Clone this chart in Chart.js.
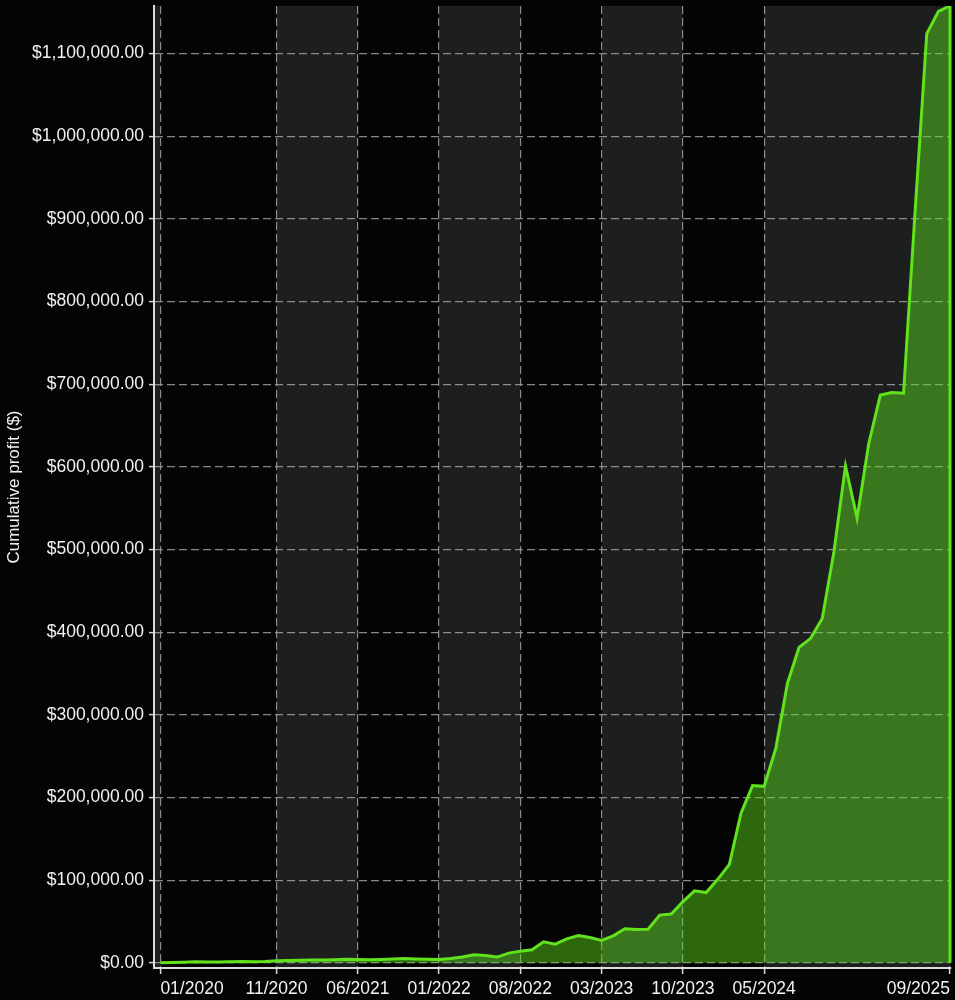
<!DOCTYPE html>
<html>
<head>
<meta charset="utf-8">
<script src="https://cdn.jsdelivr.net/npm/chart.js@4.4.1/dist/chart.umd.min.js"></script>
<style>
  html, body { margin: 0; padding: 0; background: #040404; }
  #wrap { width: 955px; height: 1000px; }
</style>
</head>
<body>
<div id="wrap"><canvas id="myChart"></canvas></div>
<script>
// monthly points, 01/2020 .. 09/2025
const months = [
  '01/2020', '02/2020', '03/2020', '04/2020', '05/2020', '06/2020', '07/2020', '08/2020', '09/2020', '10/2020', '11/2020', '12/2020',
  '01/2021', '02/2021', '03/2021', '04/2021', '05/2021', '06/2021', '07/2021', '08/2021', '09/2021', '10/2021', '11/2021', '12/2021',
  '01/2022', '02/2022', '03/2022', '04/2022', '05/2022', '06/2022', '07/2022', '08/2022', '09/2022', '10/2022', '11/2022', '12/2022',
  '01/2023', '02/2023', '03/2023', '04/2023', '05/2023', '06/2023', '07/2023', '08/2023', '09/2023', '10/2023', '11/2023', '12/2023',
  '01/2024', '02/2024', '03/2024', '04/2024', '05/2024', '06/2024', '07/2024', '08/2024', '09/2024', '10/2024', '11/2024', '12/2024',
  '01/2025', '02/2025', '03/2025', '04/2025', '05/2025', '06/2025', '07/2025', '08/2025', '09/2025',
];

const profit = [
  0, 300, 600, 1200, 1000, 900, 1200, 1500, 1400, 1700, 2500, 2800,
  3000, 3300, 3500, 3800, 4200, 4000, 3800, 4000, 4500, 5200, 4600, 4300,
  4000, 5200, 6900, 9700, 8900, 6900, 11700, 14100, 15700, 25400, 22600, 29000,
  33000, 30600, 27000, 32600, 41100, 40300, 40700, 57700, 58900, 74000, 87000, 85000,
  101000, 119000, 181000, 214500, 213500, 259500, 338000, 381500, 392500, 416500, 497000, 601000,
  538000, 628000, 687000, 690000, 689000, 910000, 1124000, 1151000, 1157500,
];

const xTickLabels = ['01/2020', '11/2020', '06/2021', '01/2022', '08/2022', '03/2023', '10/2023', '05/2024', '09/2025'];
const yTicks = [0, 100000, 200000, 300000, 400000, 500000, 600000, 700000, 800000, 900000, 1000000, 1100000];

const lineColor = 'rgb(96, 226, 28)';
const fillColor = 'rgba(96, 226, 28, 0.45)';
const textColor = '#f2f2f2';
const gridColor = 'rgba(160, 160, 160, 0.85)';
const font = { family: "'Liberation Sans', Arial, sans-serif", size: 17.5 };

const xTickPos = xTickLabels.map((l) => months.indexOf(l));

// alternating grey bands between the x ticks
const bands = {
  id: 'bands',
  beforeDraw(chart) {
    const { ctx, chartArea, scales } = chart;
    ctx.save();
    ctx.fillStyle = '#040404';
    ctx.fillRect(0, 0, chart.width, chart.height);
    const edges = [chartArea.left, ...xTickPos.map((v) => scales.x.getPixelForValue(v)), chartArea.right];
    ctx.fillStyle = '#1d1e1e';
    for (let i = 0; i < edges.length - 1; i += 2) {
      ctx.fillRect(edges[i], chartArea.top, edges[i + 1] - edges[i], chartArea.bottom - chartArea.top);
    }
    ctx.restore();
  },
  afterDatasetsDraw(chart) {
    // closing edge of the filled area on the right
    const { ctx, scales } = chart;
    const last = profit.length - 1;
    const x = scales.x.getPixelForValue(last);
    ctx.save();
    ctx.strokeStyle = lineColor;
    ctx.lineWidth = 3;
    ctx.beginPath();
    ctx.moveTo(x, scales.y.getPixelForValue(profit[last]));
    ctx.lineTo(x, scales.y.getPixelForValue(0));
    ctx.stroke();
    ctx.restore();
  },
};

const ctx = document.getElementById('myChart');

new Chart(ctx, {
  type: 'line',
  data: {
    datasets: [
      {
        label: 'Cumulative profit',
        data: profit.map((v, i) => ({ x: i, y: v })),
        borderColor: lineColor,
        backgroundColor: fillColor,
        borderWidth: 3,
        fill: 'origin',
        pointRadius: 0,
        tension: 0,
      },
    ],
  },
  options: {
    responsive: true,
    maintainAspectRatio: false,
    animation: false,
    layout: { padding: { top: 6, right: 4, bottom: 0, left: 0 } },
    plugins: {
      legend: { display: false },
      tooltip: { enabled: false },
    },
    scales: {
      x: {
        type: 'linear',
        min: -0.55,
        max: 68.05,
        afterBuildTicks: (scale) => {
          scale.ticks = xTickPos.map((v) => ({ value: v }));
        },
        afterFit: (scale) => {
          scale.height = 32;
        },
        ticks: {
          color: textColor,
          font,
          padding: 5,
          align: 'inner',
          maxRotation: 0,
          autoSkip: false,
          callback: (v) => months[v],
        },
        grid: {
          color: gridColor,
          lineWidth: 1.2,
          tickColor: '#d8d8d8',
          tickLength: 6,
          tickWidth: 1.5,
        },
        border: { color: '#dcdcdc', width: 2, dash: [8, 4] },
      },
      y: {
        min: -6300,
        max: 1157500,
        afterBuildTicks: (scale) => {
          scale.ticks = yTicks.map((v) => ({ value: v }));
        },
        afterFit: (scale) => {
          scale.width = 154;
          scale.paddingTop = 0;
          scale.paddingBottom = 0;
        },
        ticks: {
          color: textColor,
          font,
          padding: 5,
          callback: (v) => '$' + v.toLocaleString('en-US', { minimumFractionDigits: 2, maximumFractionDigits: 2 }),
        },
        title: {
          display: true,
          text: 'Cumulative profit ($)',
          color: textColor,
          font: { family: font.family, size: 17 },
        },
        grid: {
          color: gridColor,
          lineWidth: 1.2,
          tickColor: '#d8d8d8',
          tickLength: 5,
          tickWidth: 1.5,
        },
        border: { color: '#dcdcdc', width: 2, dash: [8, 4] },
      },
    },
  },
  plugins: [bands],
});
</script>
</body>
</html>
